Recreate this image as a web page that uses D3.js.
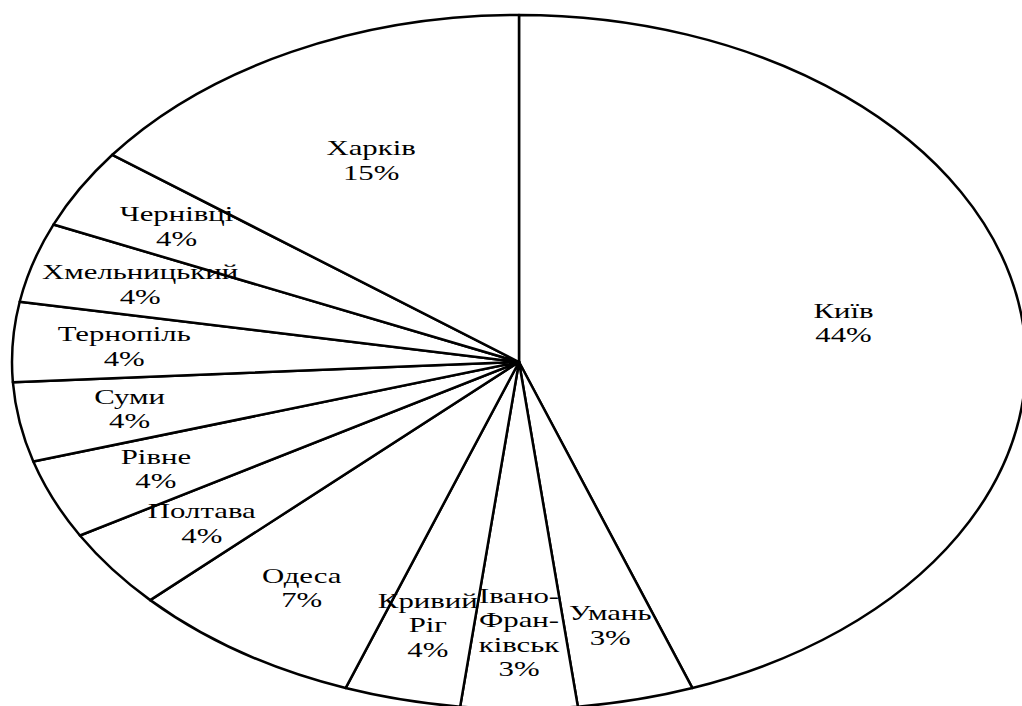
<!DOCTYPE html>
<html>
<head>
<meta charset="utf-8">
<script src="https://cdn.jsdelivr.net/npm/d3@7"></script>
<style>
  body { margin: 0; background: #fff; overflow: hidden; }
  text { font-family: "Liberation Serif", "Times New Roman", serif; font-size: 22px; fill: #000; }
</style>
</head>
<body>
<script>
// Dimensions of the picture
var width = 1022;
var height = 706;

// Cities, clockwise from the top (line breaks as in the original labels)
var cities = ["Київ", "Умань", "Івано-\nФран-\nківськ", "Кривий\nРіг", "Одеса", "Полтава",
              "Рівне", "Суми", "Тернопіль", "Хмельницький", "Чернівці", "Харків"];
// Number of cases per city (shares of the whole)
var counts = [12, 1, 1, 1, 2, 1, 1, 1, 1, 1, 1, 4];
// Percent labels as printed on the chart
var percents = ["44%", "3%", "3%", "4%", "7%", "4%", "4%", "4%", "4%", "4%", "4%", "15%"];

var data = cities.map(function (c, i) {
    return { city: c, count: counts[i], pct: percents[i] };
});

// Ellipse geometry (the pie is stretched horizontally)
var cx = 519, cy = 362;
var ry = 347, rx = 507;
var sx = rx / ry;
var textStretch = 1.4;

var total = d3.sum(counts);

var pie = d3.pie()
    .value(function (d) { return d.count; })
    .sort(null);

var arc = d3.arc()
    .innerRadius(0)
    .outerRadius(ry);

var svg = d3.select("body")
    .append("svg")
    .attr("width", width)
    .attr("height", height)
    .style("background", "white");

var arcs = pie(data);

// slices
var g = svg.append("g")
    .attr("transform", "translate(" + cx + "," + cy + ") scale(" + sx + ",1)");

g.selectAll("path")
    .data(arcs)
    .enter()
    .append("path")
    .attr("d", arc)
    .attr("fill", "white")
    .attr("stroke", "black")
    .attr("stroke-width", 2.5)
    .attr("stroke-linejoin", "round")
    .attr("vector-effect", "non-scaling-stroke");

// labels inside the slices
var labels = svg.selectAll("g.label")
    .data(arcs)
    .enter()
    .append("g")
    .attr("class", "label")
    .attr("transform", function (d) {
        var a = (d.startAngle + d.endAngle) / 2;
        var f = d.data.count / total > 0.1 ? 0.65 : 0.78;
        var x = cx + Math.sin(a) * f * rx;
        var y = cy - Math.cos(a) * f * ry;
        return "translate(" + x + "," + y + ") scale(" + textStretch + ",1)";
    });

labels.each(function (d) {
    var lines = d.data.city.split("\n").concat([d.data.pct]);
    var lh = 24.5;
    var y0 = -(lines.length - 1) * lh / 2 + 7;
    var t = d3.select(this).append("text").attr("text-anchor", "middle");
    lines.forEach(function (l, i) {
        t.append("tspan")
            .attr("x", 0)
            .attr("y", y0 + i * lh)
            .text(l);
    });
});
</script>
</body>
</html>
